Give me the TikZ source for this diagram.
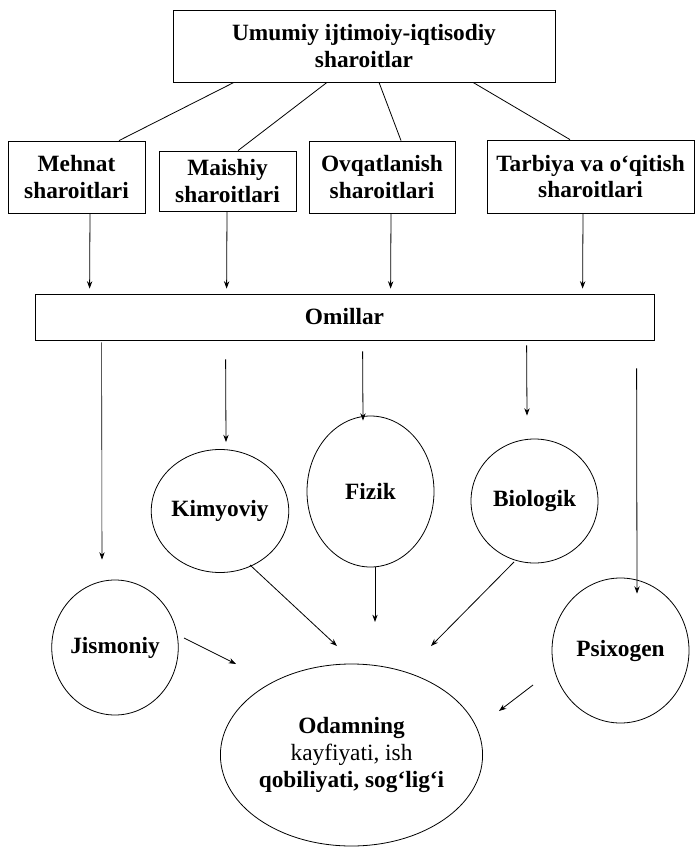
\documentclass[tikz,border=0pt]{standalone}
\usepackage{fontspec}
\setmainfont{Liberation Serif}
\usetikzlibrary{arrows.meta,shapes.geometric}
\begin{document}
\begin{tikzpicture}[x=0.75pt,y=-0.75pt,
  every node/.style={font=\fontsize{17.5}{20}\selectfont\bfseries, align=center, inner sep=0pt},
  box/.style={draw, line width=0.6pt, rectangle},
  oval/.style={draw, line width=0.6pt, ellipse},
  conn/.style={line width=0.6pt},
  arr/.style={line width=0.6pt, -{Stealth[length=5.5pt,width=4pt]}}]
\useasboundingbox (0,0) rectangle (695,848);
% boxes
\node[box, minimum width=286.5pt, minimum height=54pt] (top) at (364,46) {Umumiy ijtimoiy-iqtisodiy\\sharoitlar};
\node[box, minimum width=102.75pt, minimum height=54pt] (meh) at (76.5,177) {Mehnat\\sharoitlari};
\node[box, minimum width=102.75pt, minimum height=45pt] (mai) at (227.5,181) {Maishiy\\sharoitlari};
\node[box, minimum width=109.5pt, minimum height=54pt] (ovq) at (382,177) {Ovqatlanish\\sharoitlari};
\node[box, minimum width=155.25pt, minimum height=54.75pt] (tar) at (590.5,176.5) {Tarbiya va o‘qitish\\sharoitlari};
\node[box, minimum width=464.25pt, minimum height=34.5pt] (om) at (344.5,317) {Omillar};
% ellipses
\node[oval, minimum width=96pt, minimum height=92.25pt] (kim) at (220,511) {Kimyoviy};
\node[oval, minimum width=95.25pt, minimum height=113.25pt] (fiz) at (370.5,491.5) {Fizik};
\node[oval, minimum width=95.25pt, minimum height=93pt] (bio) at (534.5,501) {Biologik};
\node[oval, minimum width=82.5pt, minimum height=101.25pt] (jis) at (115,647.5) {Jismoniy};
\node[oval, minimum width=102.75pt, minimum height=108.75pt] (psi) at (620.5,650.5) {Psixogen};
\node[oval, minimum width=192.75pt, minimum height=136.5pt] (od) at (351.5,755) {Odamning\\{\mdseries kayfiyati, ish}\\qobiliyati, sog‘lig‘i};
% lines from top box
\draw[conn] ([shift={(-130,0)}]top.south) -- ([shift={(42.5,0)}]meh.north);
\draw[conn] ([shift={(-37,0)}]top.south) -- ([shift={(10.5,0)}]mai.north);
\draw[conn] ([shift={(15,0)}]top.south) -- ([shift={(19,0)}]ovq.north);
\draw[conn] ([shift={(109,0)}]top.south) -- ([shift={(-20.5,0)}]tar.north);
% arrows to Omillar
\draw[arr] ([shift={(13.5,0)}]meh.south) -- ([shift={(55,-5)}]om.north west);
\draw[arr] ([shift={(-0.5,0)}]mai.south) -- ([shift={(192,-5)}]om.north west);
\draw[arr] ([shift={(9,0)}]ovq.south) -- ([shift={(356,-5)}]om.north west);
\draw[arr] ([shift={(-7.5,0)}]tar.south) -- ([shift={(548,-5)}]om.north west);
% arrows from Omillar
\draw[arr, line width=0.45pt] ([shift={(67,2)}]om.south west) -- ([shift={(-13,-20)}]jis.north);
\draw[arr] ([shift={(191,19)}]om.south west) -- ([shift={(6,-7)}]kim.north);
\draw[arr] ([shift={(328,11)}]om.south west) -- ([shift={(-7.5,5)}]fiz.north);
\draw[arr] ([shift={(492,5)}]om.south west) -- ([shift={(-7.5,-23)}]bio.north);
\draw[arr] ([shift={(602,28)}]om.south west) -- ([shift={(16.5,16)}]psi.north);
% arrows to Odamning
\draw[arr] ([shift={(30,54)}]kim.center) -- ([shift={(-14.5,-109)}]od.center);
\draw[arr] ([shift={(4.5,0)}]fiz.south) -- ([shift={(23.5,-133)}]od.center);
\draw[arr] ([shift={(-20.5,61)}]bio.center) -- ([shift={(79.5,-109)}]od.center);
\draw[arr] ([shift={(69,-9.5)}]jis.center) -- ([shift={(-115.5,-91)}]od.center);
\draw[arr] ([shift={(-87.5,34.5)}]psi.center) -- ([shift={(147.5,-44)}]od.center);
\end{tikzpicture}
\end{document}
